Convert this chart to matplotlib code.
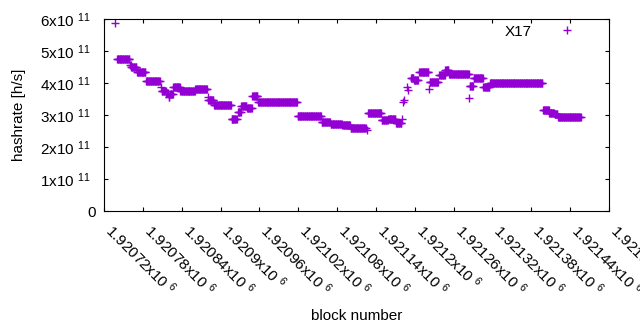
import numpy as np
import matplotlib
matplotlib.use("Agg")
import matplotlib.pyplot as plt

plt.rcParams['font.family'] = ['Liberation Sans', 'DejaVu Sans']
plt.rcParams['mathtext.default'] = 'regular'

# -------- DATA (runs of constant hashrate) --------
base_block = 1920720
run_start = [17, 20, 40, 42, 51, 65, 88, 89, 96, 100, 102, 107, 118, 141, 160, 161,
             170, 197, 207, 212, 221, 229, 238, 299, 336, 350, 368, 381, 406, 408,
             429, 439, 451, 460, 462, 464, 468, 470, 474, 479, 487, 502, 503, 518,
             527, 533, 564, 565, 571, 586, 596, 678, 688, 696, 701]
run_end = [17, 39, 41, 50, 64, 86, 88, 95, 99, 101, 106, 117, 140, 159, 160, 169,
           196, 205, 211, 220, 228, 237, 298, 335, 349, 367, 380, 404, 406, 428,
           438, 450, 459, 460, 462, 464, 468, 470, 478, 485, 501, 502, 516, 526,
           532, 563, 564, 570, 585, 595, 677, 687, 695, 700, 736]
run_value = [5.875, 4.74, 4.56, 4.49, 4.33, 4.05, 3.88, 3.76, 3.68, 3.57, 3.66, 3.87,
             3.74, 3.81, 3.57, 3.46, 3.30, 2.87, 3.10, 3.27, 3.22, 3.59, 3.40, 2.97,
             2.77, 2.71, 2.68, 2.58, 2.53, 3.05, 2.83, 2.87, 2.74, 2.87, 3.42, 3.47,
             3.88, 3.77, 4.17, 4.10, 4.33, 3.80, 4.02, 4.25, 4.41, 4.27, 3.52, 3.92,
             4.15, 3.88, 3.99, 3.16, 3.05, 3.02, 2.95]  # x 1e11 h/s

blocks = []
hashrate = []
for s, e, v in zip(run_start, run_end, run_value):
    for b in range(s, e + 1):
        blocks.append(base_block + b)
        hashrate.append(v * 1e11)

x_ticks = np.arange(1920720, 1921501, 60)
y_ticks = np.arange(0, 7e11, 1e11)

# -------- PLOT --------
fig = plt.figure(figsize=(6.4, 3.3), dpi=100)
ax = fig.add_axes([0.1625, 0.3606, 0.7891, 0.5818])

ax.plot(blocks, hashrate, linestyle='none', marker='+', markersize=6,
        markeredgewidth=1, color='#9400D3', label='X17')

ax.set_xlim(1920720, 1921500)
ax.set_ylim(0, 6e11)

ax.set_xticks(x_ticks)
ax.set_xticklabels([f"{t/1e6:g}x10 $^{{6}}$" for t in x_ticks],
                   rotation=-45, ha='left', va='baseline', rotation_mode='anchor')
ax.set_yticks(y_ticks)
ax.set_yticklabels(["0" if t == 0 else f"{int(round(t/1e11))}x10 $^{{11}}$  " for t in y_ticks])

ax.tick_params(direction='in', length=3.2, width=0.8, top=True, right=True,
               labelsize=11, colors='black', pad=6)
ax.tick_params(axis='x', pad=15)
for sp in ax.spines.values():
    sp.set_linewidth(0.8)

ax.set_xlabel("block number", fontsize=11, labelpad=7.5)
ax.set_ylabel("hashrate [h/s]", fontsize=11, labelpad=10)

ax.legend(loc='upper right', frameon=False, markerfirst=False, fontsize=11,
          handlelength=2, handletextpad=1.3, bbox_to_anchor=(0.974, 1.042))

fig.savefig("out.png", dpi=100)
